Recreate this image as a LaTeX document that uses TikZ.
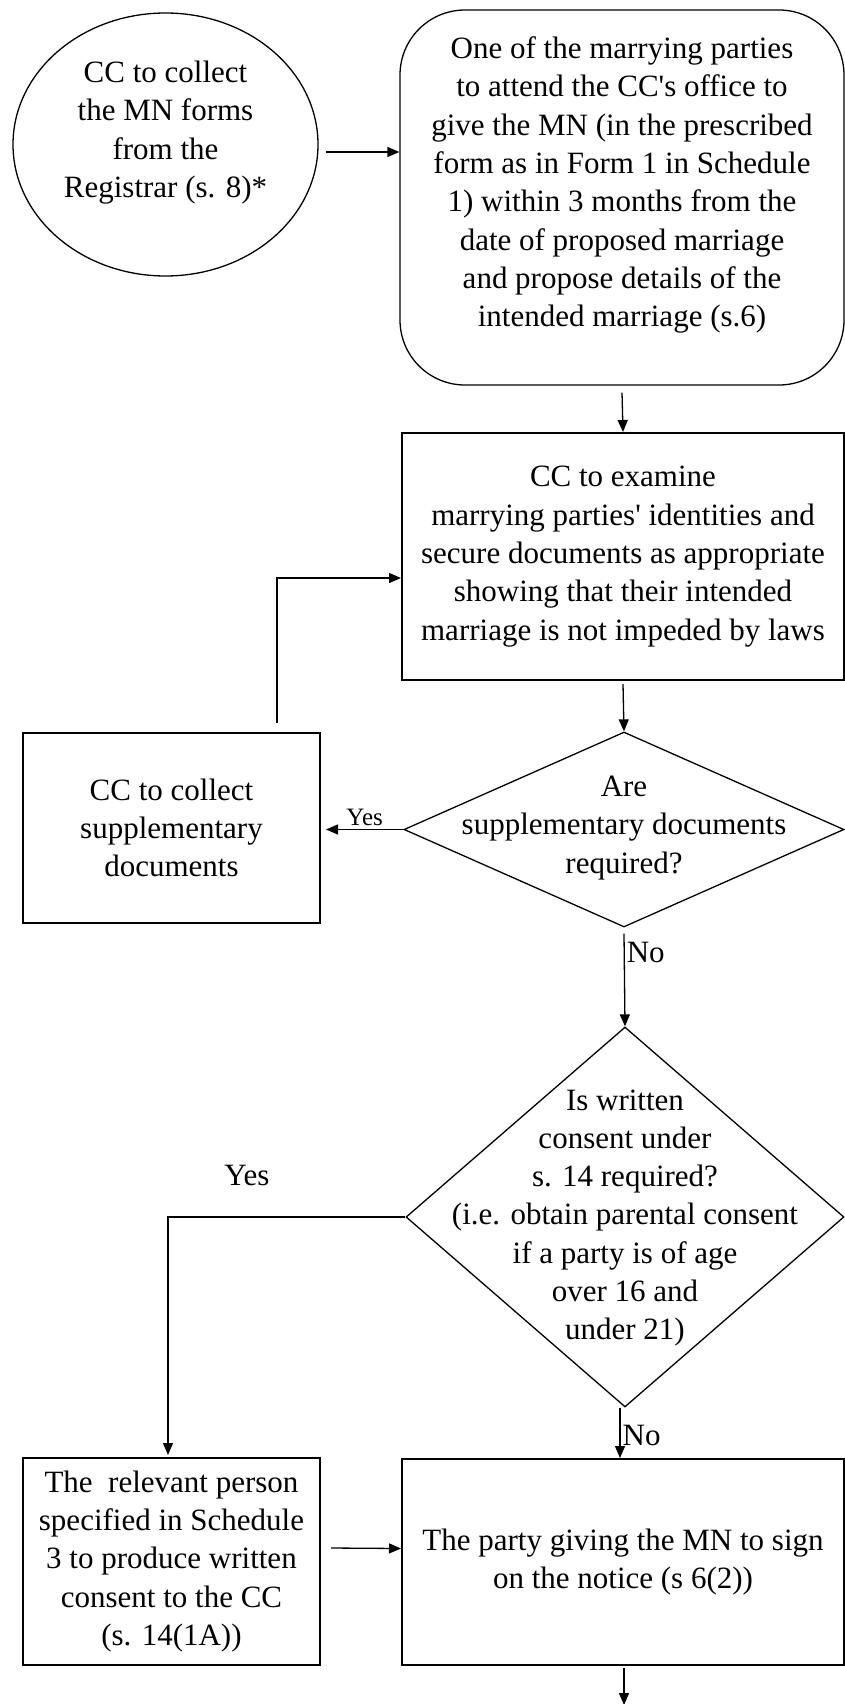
\documentclass[tikz,border=0pt]{standalone}
\usepackage{fontspec}
\setmainfont{Liberation Serif}
\usetikzlibrary{shapes.geometric,arrows.meta}

\begin{document}
\begin{tikzpicture}[x=1pt,y=-1pt,line width=1.3pt,
		font=\fontsize{31}{38.3}\selectfont,
		txt/.style={align=center,inner sep=0pt},
		stepbox/.style={draw,line width=2pt,align=center,inner sep=0pt},
		askbox/.style={draw,diamond,inner sep=0pt},
		arr/.style={-{Triangle[length=12pt,width=10pt]}}]
		\useasboundingbox (0,0) rectangle (845,1704);
		% shapes
		\node[draw,ellipse,inner sep=0pt,minimum width=305pt,minimum height=263pt] (mnforms) at (165.5,144.5) {};
		\node[txt] (mnformstxt) at (165.5,132.5) {CC to collect\\the MN forms\\from the\\Registrar (s. 8)*};
		\node[draw,rounded corners=65pt,inner sep=0pt,minimum width=444pt,minimum height=375pt] (notice) at (622,197.5) {};
		\node[txt] (noticetxt) at (622,185) {One of the marrying parties\\to attend the CC\textquotesingle s office to\\give the MN (in the prescribed\\form as in Form 1 in Schedule\\1) within 3 months from the\\date of proposed marriage\\and propose details of the\\intended marriage (s.6)};
		\node[stepbox,minimum width=442pt,minimum height=247pt] (examine) at (623,556.5) {CC to examine\\marrying parties\textquotesingle{} identities and\\secure documents as appropriate\\showing that their intended\\marriage is not impeded by laws};
		\node[askbox,minimum width=440pt,minimum height=195pt] (suppq) at (624,829.5) {};
		\node[txt] (suppqtxt) at (624,828) {Are\\supplementary documents\\required?};
		\node[stepbox,minimum width=297pt,minimum height=190pt] (suppdocs) at (171.5,828) {CC to collect\\supplementary\\documents};
		\node[askbox,minimum width=438pt,minimum height=380pt] (consentq) at (625,1217) {};
		\node[txt] (consentqtxt) at (625,1218) {Is written\\consent under\\s. 14 required?\\(i.e. obtain parental consent\\if a party is of age\\over 16 and\\under 21)};
		\node[stepbox,minimum width=297pt,minimum height=207pt] (consent) at (171.5,1561.5) {The~ relevant person\\specified in Schedule\\3 to produce written\\consent to the CC\\(s. 14(1A))};
		\node[stepbox,minimum width=442pt,minimum height=206pt] (sign) at (623,1562) {The party giving the MN to sign\\on the notice (s 6(2))};
		% connectors
		\draw[arr] ([shift={(7,7.5)}]mnforms.east) -- ([yshift=45.5pt]notice.west);
		\draw[arr] ([yshift=-7pt]notice.south) -- (examine.north);
		\draw[arr] ([yshift=-3pt]examine.south) -- (suppq.north);
		\draw[arr] (suppq.west) -- ([xshift=5pt]suppq.west -| suppdocs.east)
			node[midway,above,font=\fontsize{25}{30}\selectfont,inner sep=3pt] (yes1) {Yes};
		\draw[arr] ([shift={(105.5,-9)}]suppdocs.north) |- ([yshift=-21.5pt]examine.west);
		\draw[arr] ([yshift=-6pt]suppq.south) -- (consentq.north)
			node[pos=0.2,right,inner sep=2pt] (no1) {No};
		\draw[arr] (consentq.west) -- ([xshift=-3.5pt]consentq.west -| consent.north) -- ([shift={(-3.5,-2)}]consent.north);
		\node (yes2) at (247,1175) {Yes};
		\draw[arr] ([xshift=-5pt]consentq.south) -- ([xshift=-5pt]consentq.south |- sign.north)
			node[pos=0.55,right,inner sep=2pt] (no2) {No};
		\draw[arr] ([shift={(10,-13.5)}]consent.east) -- ([yshift=13.5pt]sign.west);
		\draw[arr] ([shift={(1,2)}]sign.south) -- ++(0,37);
\end{tikzpicture}
\end{document}
